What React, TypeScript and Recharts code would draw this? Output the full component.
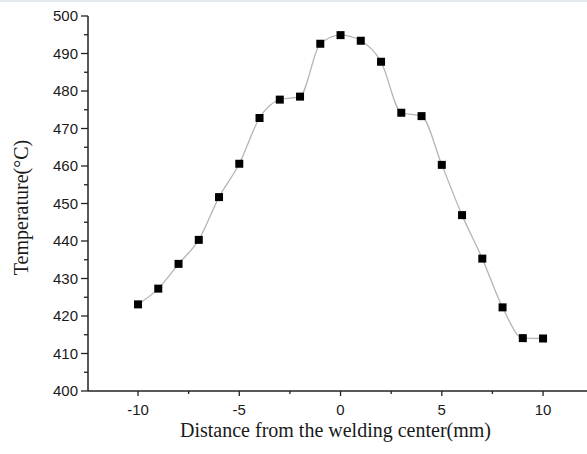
import React from 'react';
import { LineChart, Line, XAxis, YAxis } from 'recharts';

const distances = [-10, -9, -8, -7, -6, -5, -4, -3, -2, -1, 0, 1, 2, 3, 4, 5, 6, 7, 8, 9, 10];
const temperatures = [423.1, 427.3, 433.9, 440.3, 451.7, 460.6, 472.8, 477.7, 478.5, 492.6, 494.9, 493.4, 487.8, 474.2, 473.3, 460.3, 446.9, 435.3, 422.3, 414.1, 414.0];
const xTicks = [-10, -7.5, -5, -2.5, 0, 2.5, 5, 7.5, 10];
const yTicks = [400, 405, 410, 415, 420, 425, 430, 435, 440, 445, 450, 455, 460, 465, 470, 475, 480, 485, 490, 495, 500];

const data = distances.map((x, i) => ({ x, t: temperatures[i] }));

const tickFont = '"Liberation Sans", Arial, sans-serif';
const titleFont = '"Liberation Serif", "Times New Roman", serif';

const XTick = (props: any) => {
  const { x, y, payload } = props;
  const v = payload.value;
  const major = Math.abs(v % 5) < 1e-6;
  return (
    <g>
      <line x1={x} x2={x} y1={y} y2={y + (major ? 5 : 3)} stroke="#222" strokeWidth={1.3} />
      {major && (
        <text x={x} y={y + 24} textAnchor="middle" fontSize={15} fontFamily={tickFont} fill="#1a1a1a">
          {v}
        </text>
      )}
    </g>
  );
};

const YTick = (props: any) => {
  const { x, y, payload } = props;
  const v = payload.value;
  const major = Math.abs(v % 10) < 1e-6;
  return (
    <g>
      <line x1={x - (major ? 7 : 4)} x2={x} y1={y} y2={y} stroke="#222" strokeWidth={1.3} />
      {major && (
        <text x={x - 10} y={y} dy="0.36em" textAnchor="end" fontSize={15} fontFamily={tickFont} fill="#1a1a1a">
          {v}
        </text>
      )}
    </g>
  );
};

const SquareDot = (props: any) => {
  const { cx, cy, index } = props;
  return <rect key={`d${index}`} x={cx - 4} y={cy - 4} width={8} height={8} fill="#000" />;
};

export default function App() {
  return (
    <div style={{ position: 'absolute', left: 0, top: 0, width: 587, height: 454, background: '#fff' }}>
      <div style={{ position: 'absolute', left: 0, top: 0, width: 587, height: 2, background: '#e3eaf0' }} />
      <LineChart width={587} height={454} data={data} margin={{ top: 16, right: 0, bottom: 0, left: 0 }}>
        <XAxis
          dataKey="x"
          type="number"
          domain={[-12.47, 12.17]}
          ticks={xTicks}
          interval={0}
          allowDataOverflow
          height={63}
          tickSize={0}
          tickMargin={0}
          tickLine={false}
          tick={<XTick />}
          axisLine={{ stroke: '#222', strokeWidth: 1.5 }}
          label={{
            value: 'Distance from the welding center(mm)',
            position: 'insideBottom',
            offset: 0,
            dx: -2,
            dy: -17,
            style: { fontFamily: titleFont, fontSize: 20, fill: '#1a1a1a', textAnchor: 'middle' },
          }}
        />
        <YAxis
          type="number"
          domain={[400, 500]}
          ticks={yTicks}
          interval={0}
          allowDataOverflow
          width={88}
          tickSize={0}
          tickMargin={0}
          tickLine={false}
          tick={<YTick />}
          axisLine={{ stroke: '#222', strokeWidth: 1.5 }}
          label={{
            value: 'Temperature(°C)',
            angle: -90,
            position: 'insideLeft',
            offset: 0,
            dx: 21,
            dy: 4,
            style: { fontFamily: titleFont, fontSize: 20, fill: '#1a1a1a', textAnchor: 'middle' },
          }}
        />
        <Line
          dataKey="t"
          type="monotone"
          stroke="#b5b5b5"
          strokeWidth={1.3}
          dot={<SquareDot />}
          activeDot={false}
          isAnimationActive={false}
        />
      </LineChart>
    </div>
  );
}
